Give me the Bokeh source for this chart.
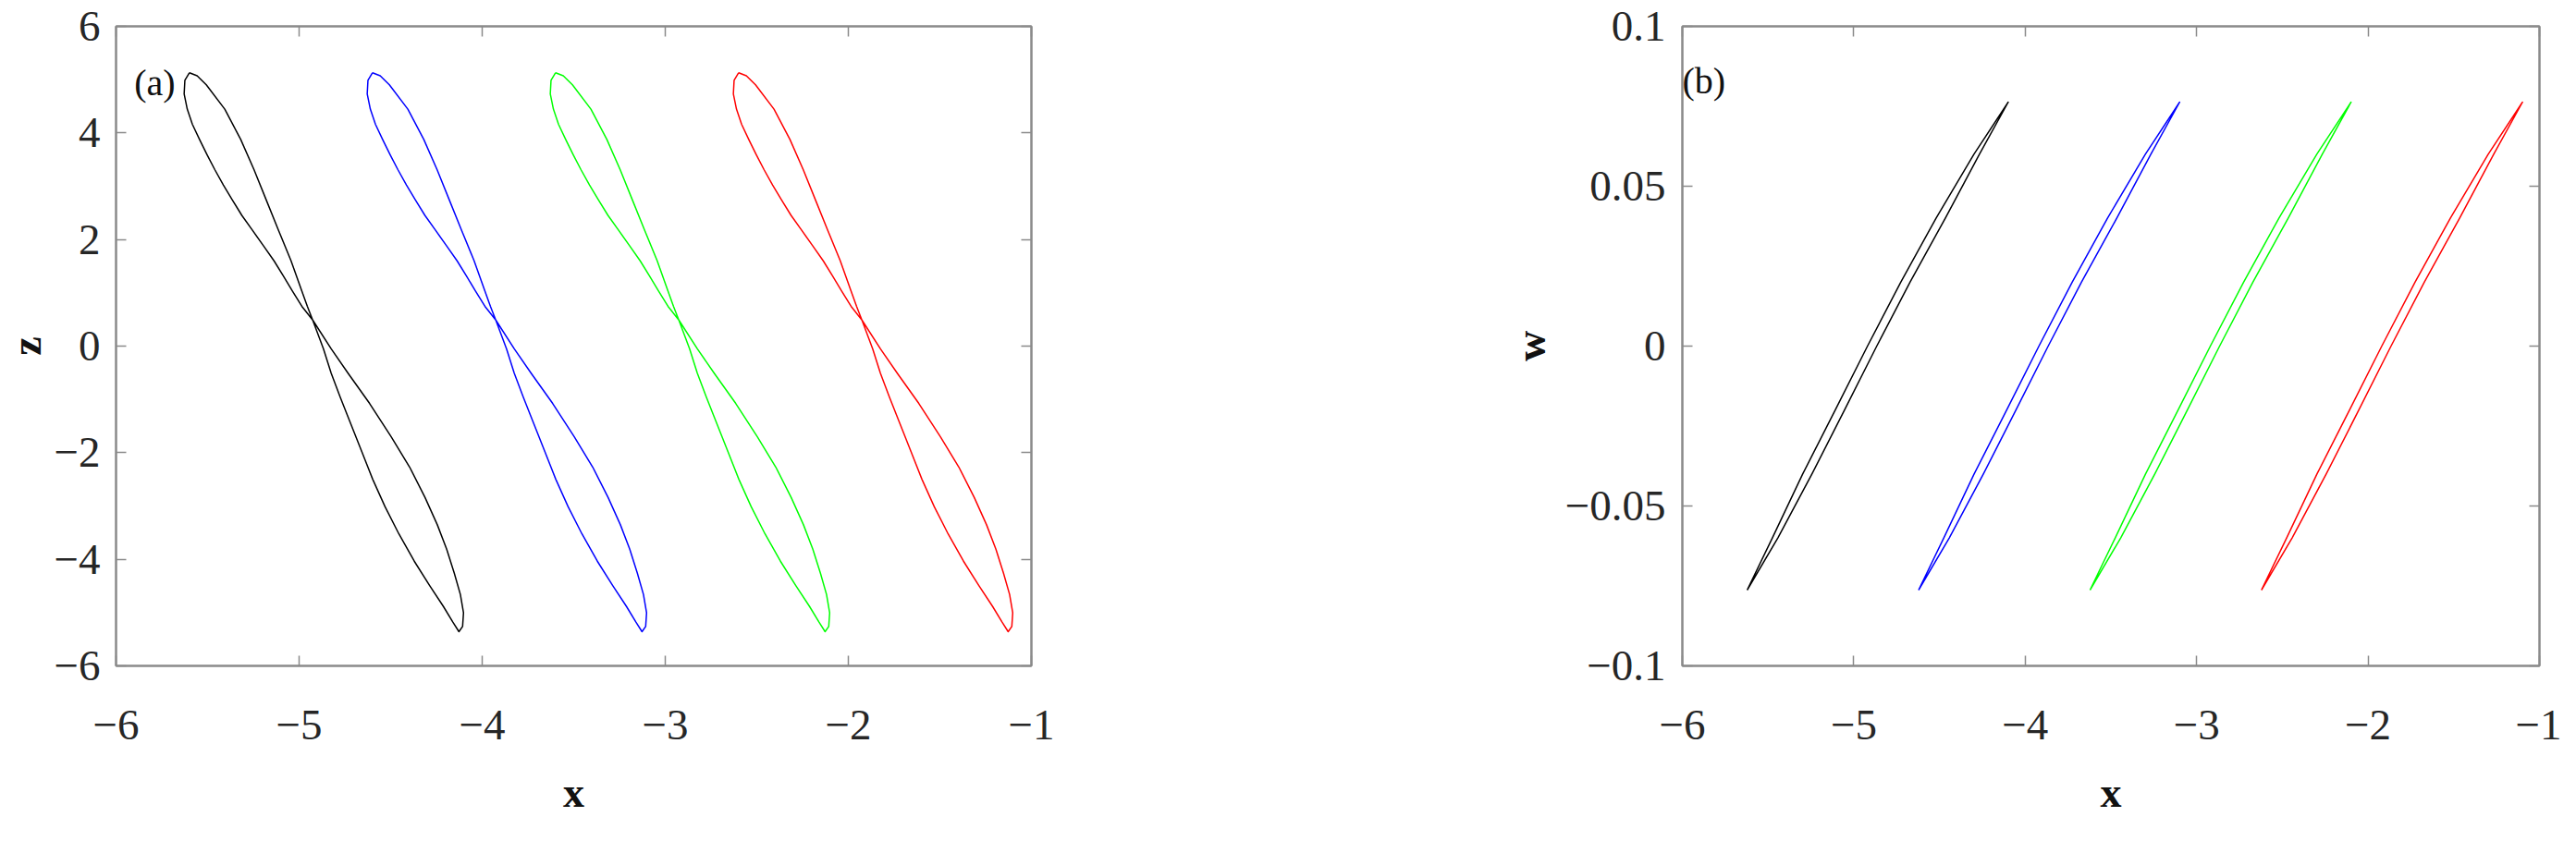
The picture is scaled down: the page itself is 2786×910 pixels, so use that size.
from bokeh.plotting import figure
from bokeh.layouts import row
from bokeh.models import (LinearAxis, FixedTicker, CustomJSTickFormatter, Range1d, Label,
                          CustomLabelingPolicy)
from bokeh.embed import file_html
from bokeh.resources import INLINE

# ---------------- data ----------------
# panel (a): one closed figure-eight orbit in the (x, z) plane (black one)
loop_x = [-5.599, -5.624, -5.628, -5.611, -5.583, -5.544, -5.503, -5.460, -5.414, -5.364,
          -5.313, -5.254, -5.195, -5.137, -5.086, -5.036, -4.985, -4.926,
          -4.825, -4.733, -4.615, -4.497, -4.396, -4.312, -4.245, -4.194, -4.152, -4.119,
          -4.102, -4.107, -4.127,
          -4.161, -4.211, -4.287, -4.371, -4.455, -4.531, -4.598, -4.657, -4.716, -4.775,
          -4.825, -4.867, -4.926,
          -4.955, -4.985, -5.044, -5.112, -5.179, -5.246, -5.319, -5.406,
          -5.507, -5.557, -5.599]
loop_z = [5.129, 4.987, 4.731, 4.446, 4.162, 3.877, 3.592, 3.308, 3.023, 2.738,
          2.454, 2.169, 1.884, 1.600, 1.315, 1.030, 0.746, 0.490,
          -0.051, -0.507, -1.076, -1.703, -2.272, -2.841, -3.353, -3.809, -4.265, -4.663,
          -5.004, -5.260, -5.358,
          -5.175, -4.890, -4.492, -4.036, -3.524, -3.011, -2.499, -1.986, -1.474, -0.962,
          -0.507, -0.051, 0.490,
          0.746, 1.030, 1.600, 2.169, 2.738, 3.308, 3.877, 4.446,
          4.902, 5.073, 5.129]

# panel (b): the same orbit in the (x, w) plane (black one)
wloop_x = [-5.622, -5.475, -5.298, -5.108, -4.920, -4.726, -4.520, -4.299, -4.099,
           -4.267, -4.466, -4.672, -4.866, -5.054, -5.244, -5.443, -5.622]
wloop_w = [-0.0763, -0.06, -0.04, -0.02, 0.0, 0.02, 0.04, 0.06, 0.0763,
           0.06, 0.04, 0.02, 0.0, -0.02, -0.04, -0.06, -0.0763]

# the four orbits are the same shape, displaced along x
orbit_shift = [0, 1, 2, 3]
orbit_color = ["#000000", "#0000ff", "#00ff00", "#ff0000"]

x_ticks = [-6, -5, -4, -3, -2, -1]
z_ticks = [-6, -4, -2, 0, 2, 4, 6]
w_ticks = [-0.1, -0.05, 0, 0.05, 0.1]

# ---------------- styling ----------------
FONT = "Liberation Serif"
GRAY = "#8a8a8a"
TICK_FS = "47px"
LABEL_FS = "46px"

fmt = CustomJSTickFormatter(code="return String(tick).replace('-', '\u2212');")
no_labels = CustomLabelingPolicy(
    code="for (const i of Array.from(indices)) { indices.unset(i) } return indices")


def style_axis(ax, ticks, labels=True, standoff=17):
    ax.ticker = FixedTicker(ticks=ticks)
    ax.axis_line_color = GRAY
    ax.axis_line_width = 2
    ax.major_tick_line_color = GRAY
    ax.major_tick_line_width = 1.5
    ax.major_tick_in = 11
    ax.major_tick_out = 0
    ax.minor_tick_line_color = None
    if labels:
        ax.formatter = fmt
        ax.major_label_text_font = FONT
        ax.major_label_text_font_size = TICK_FS
        ax.major_label_text_color = "#262626"
        ax.major_label_standoff = standoff
        ax.axis_label_text_font = FONT
        ax.axis_label_text_font_size = LABEL_FS
        ax.axis_label_text_font_style = "bold"
        ax.axis_label_text_color = "#111111"
    else:
        ax.major_label_policy = no_labels
        ax.major_label_text_font_size = "1px"
        ax.major_label_standoff = 0


def make_panel(width, xr, yr, yticks, borders, ylab, ylab_standoff, ytick_standoff):
    p = figure(width=width, height=894, x_range=Range1d(*xr), y_range=Range1d(*yr),
               output_backend="svg", toolbar_location=None,
               min_border_left=borders[0], min_border_right=borders[1],
               min_border_top=borders[2], min_border_bottom=borders[3])
    p.xgrid.visible = False
    p.ygrid.visible = False
    p.outline_line_color = GRAY
    p.outline_line_width = 2
    p.background_fill_color = "white"
    p.border_fill_color = "white"
    style_axis(p.xaxis[0], x_ticks, True, 48)
    style_axis(p.yaxis[0], yticks, True, ytick_standoff)
    p.xaxis.axis_label = "x"
    p.xaxis.axis_label_standoff = 29
    p.yaxis.axis_label = ylab
    p.yaxis.axis_label_standoff = ylab_standoff
    top = LinearAxis()
    style_axis(top, x_ticks, False)
    p.add_layout(top, "above")
    right = LinearAxis()
    style_axis(right, yticks, False)
    p.add_layout(right, "right")
    return p


# panel (a)
p1 = make_panel(1385, (-6, -1), (-6, 6), z_ticks, (124, 270, 28, 174), "z", 1, 17)
for s, c in zip(orbit_shift, orbit_color):
    p1.line([v + s for v in loop_x], loop_z, line_color=c, line_width=1.5, line_join="round")
p1.add_layout(Label(x=-5.9, y=4.95, text="(a)", text_font=FONT, text_font_size="40px",
                    text_baseline="middle", text_align="left", text_color="#111111"))

# panel (b)
p2 = make_panel(1385, (-6, -1), (-0.1, 0.1), w_ticks, (434, 24, 28, 172), "w", 9, 18)
for s, c in zip(orbit_shift, orbit_color):
    p2.line([v + s for v in wloop_x], wloop_w, line_color=c, line_width=1.5, line_join="round")
p2.add_layout(Label(x=-6.0, y=0.083, text="(b)", text_font=FONT, text_font_size="40px",
                    text_baseline="middle", text_align="left", text_color="#111111"))

layout = row(p1, p2)
open("out.html", "w").write(file_html(layout, INLINE))
